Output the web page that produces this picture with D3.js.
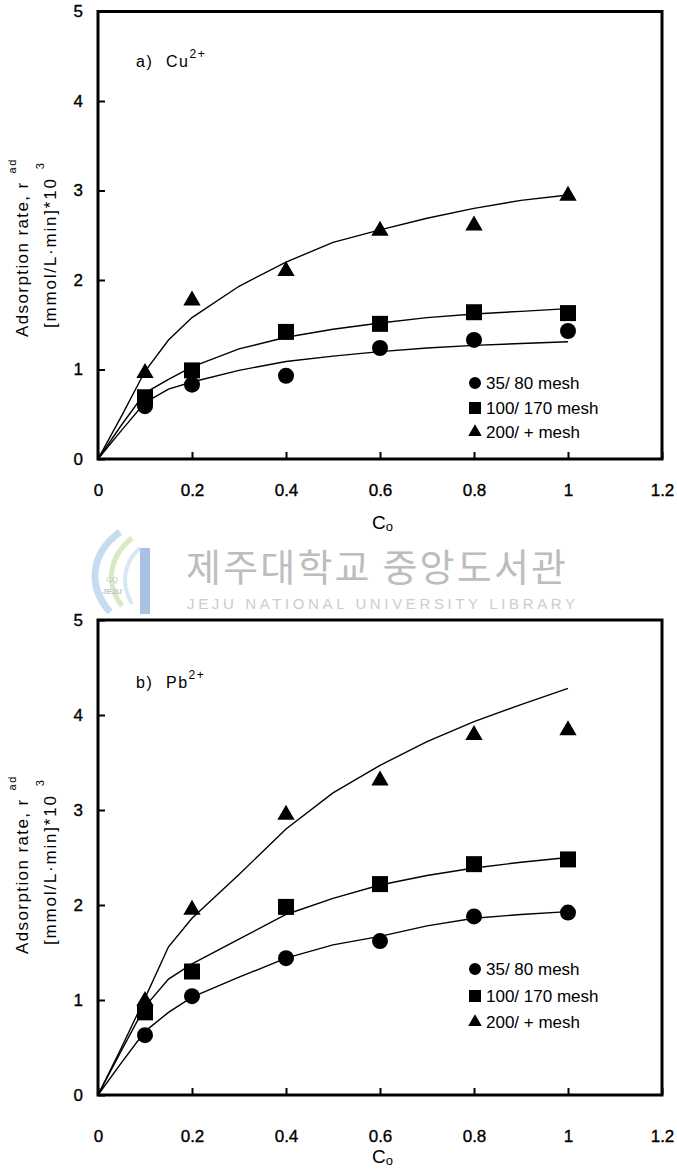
<!DOCTYPE html>
<html>
<head>
<meta charset="utf-8">
<script src="https://cdn.jsdelivr.net/npm/d3@7"></script>
<style>
  body { margin: 0; background: #fff; }
  svg { display: block; }
  text { font-family: "Liberation Sans", Arial, sans-serif; }
</style>
</head>
<body>
<svg id="canvas"></svg>
<script>
// measured points (C_o = 0.1 .. 1.0)
const xObs = [0.1, 0.2, 0.4, 0.6, 0.8, 1.0];
const cu35 = [0.59, 0.83, 0.93, 1.24, 1.33, 1.43];
const cu100 = [0.69, 0.99, 1.42, 1.51, 1.64, 1.63];
const cu200 = [0.96, 1.77, 2.10, 2.55, 2.61, 2.94];
const pb35 = [0.63, 1.04, 1.44, 1.62, 1.88, 1.92];
const pb100 = [0.87, 1.30, 1.98, 2.22, 2.43, 2.48];
const pb200 = [0.99, 1.95, 2.95, 3.31, 3.79, 3.84];

// fitted curves
const xFit = [0, 0.05, 0.1, 0.15, 0.2, 0.3, 0.4, 0.5, 0.6, 0.7, 0.8, 0.9, 1.0];
const cuFit35 = [0, 0.32, 0.63, 0.78, 0.86, 0.99, 1.09, 1.15, 1.20, 1.24, 1.27, 1.29, 1.31];
const cuFit100 = [0, 0.38, 0.74, 0.89, 1.03, 1.23, 1.36, 1.45, 1.52, 1.58, 1.62, 1.65, 1.68];
const cuFit200 = [0, 0.48, 0.98, 1.33, 1.58, 1.93, 2.20, 2.42, 2.56, 2.69, 2.80, 2.89, 2.95];
const pbFit35 = [0, 0.34, 0.67, 0.87, 1.03, 1.24, 1.44, 1.58, 1.67, 1.78, 1.86, 1.90, 1.93];
const pbFit100 = [0, 0.47, 0.93, 1.22, 1.38, 1.64, 1.90, 2.07, 2.21, 2.31, 2.39, 2.45, 2.50];
const pbFit200 = [0, 0.50, 1.02, 1.56, 1.86, 2.32, 2.80, 3.18, 3.47, 3.72, 3.93, 4.11, 4.28];

const xTicks = [0, 0.2, 0.4, 0.6, 0.8, 1, 1.2];
const yTicks = [0, 1, 2, 3, 4, 5];
const legendNames = ["35/ 80 mesh", "100/ 170 mesh", "200/ + mesh"];
const symbolTypes = [d3.symbolCircle, d3.symbolSquare, d3.symbolTriangle];

const width = 677, height = 1171;
const svg = d3.select("#canvas").attr("width", width).attr("height", height);
svg.append("rect").attr("width", width).attr("height", height).attr("fill", "#fff");

// watermark (library stamp between the two panels)
const wm = svg.append("g");
wm.append("path").attr("d", "M110,612 C86,585 92,552 120,532").attr("fill", "none")
  .attr("stroke", "#b9d3ee").attr("stroke-width", 7).attr("opacity", 0.8);
wm.append("path").attr("d", "M122,606 C104,582 110,556 132,538").attr("fill", "none")
  .attr("stroke", "#cfe3b6").attr("stroke-width", 5).attr("opacity", 0.8);
wm.append("path").attr("d", "M132,604 C120,584 124,562 140,548").attr("fill", "none")
  .attr("stroke", "#d7e8f5").attr("stroke-width", 4);
wm.append("rect").attr("x", 140).attr("y", 548).attr("width", 10).attr("height", 66).attr("fill", "#a9c2e4");
wm.append("text").attr("x", 112).attr("y", 582).attr("text-anchor", "middle")
  .attr("font-size", 8).attr("fill", "#c4c4c4").text("CQ");
wm.append("text").attr("x", 112).attr("y", 594).attr("text-anchor", "middle")
  .attr("font-size", 8).attr("font-weight", "bold").attr("fill", "#c4c4c4").text("JEJU");
wm.append("text").attr("x", 186).attr("y", 581)
  .style("font-family", "'Noto Sans CJK KR', sans-serif")
  .attr("font-size", 38).attr("fill", "#bdbdbd").attr("textLength", 380)
  .text("제주대학교 중앙도서관");
wm.append("text").attr("x", 187).attr("y", 609)
  .attr("font-size", 15).attr("fill", "#cccccc").attr("textLength", 388).attr("lengthAdjust", "spacing")
  .text("JEJU NATIONAL UNIVERSITY LIBRARY");

const x = d3.scaleLinear().domain([0, 1.2]).range([98, 662]);

function panel(opts) {
  const y = d3.scaleLinear().domain([0, 5]).range([opts.bottom, opts.top]);
  const g = svg.append("g");

  const xAxis = g.append("g")
    .attr("transform", `translate(0,${opts.bottom})`)
    .call(d3.axisBottom(x).tickValues(xTicks).tickFormat(d3.format("~g"))
      .tickSizeInner(-7).tickSizeOuter(0).tickPadding(opts.xPad));
  const yAxis = g.append("g")
    .attr("transform", `translate(${x(0)},0)`)
    .call(d3.axisLeft(y).tickValues(yTicks).tickFormat(d3.format("d"))
      .tickSizeInner(-7).tickSizeOuter(0).tickPadding(15));
  [xAxis, yAxis].forEach(a => {
    a.select(".domain").remove();
    a.selectAll("line").attr("stroke", "#000").attr("stroke-width", 2);
    a.selectAll("text").attr("font-size", 17).attr("fill", "#000")
      .attr("stroke", "#000").attr("stroke-width", 0.35)
      .style("font-family", "'Liberation Sans', Arial, sans-serif");
  });

  // frame
  g.append("rect").attr("x", x(0)).attr("y", y(5))
    .attr("width", x(1.2) - x(0)).attr("height", y(0) - y(5))
    .attr("fill", "none").attr("stroke", "#000").attr("stroke-width", 3);

  const line = d3.line().x(d => x(d[0])).y(d => y(d[1]));
  opts.fits.forEach(f => {
    g.append("path").datum(xFit.map((v, i) => [v, f[i]]))
      .attr("d", line).attr("fill", "none").attr("stroke", "#000").attr("stroke-width", 1.4);
  });

  const sizes = [201, 256, 130];
  opts.obs.forEach((s, k) => {
    g.append("g").selectAll("path")
      .data(xObs.map((v, i) => [v, s[i]]))
      .join("path")
      .attr("transform", d => `translate(${x(d[0])},${y(d[1])})`)
      .attr("d", d3.symbol().type(symbolTypes[k]).size(sizes[k]))
      .attr("fill", "#000");
  });

  // legend
  const lg = g.append("g");
  const lsizes = [113, 144, 80];
  legendNames.forEach((name, k) => {
    const ly = opts.legendY[k];
    lg.append("path").attr("transform", `translate(475,${ly})`)
      .attr("d", d3.symbol().type(symbolTypes[k]).size(lsizes[k])).attr("fill", "#000");
    lg.append("text").attr("x", 486).attr("y", ly + 6).attr("font-size", 17)
      .attr("fill", "#000").text(name);
  });

  // panel tag
  const tag = g.append("text").attr("x", 136).attr("y", opts.tagY).attr("font-size", 16)
    .attr("letter-spacing", 1.5).attr("fill", "#000");
  tag.append("tspan").text(opts.tag[0]);
  tag.append("tspan").attr("x", 166).text(opts.tag[1]);
  tag.append("tspan").attr("dy", -9).attr("font-size", 12).text("2+");

  // x title
  const xt = g.append("text").attr("x", 372).attr("y", opts.bottom + opts.xTitleOff)
    .attr("font-size", 19).attr("fill", "#000");
  xt.append("tspan").text("C");
  xt.append("tspan").attr("dy", 2).attr("font-size", 13).text("o");

  // y title (two rotated lines)
  const t1 = g.append("text").attr("transform", `translate(28,${opts.yTitleBase}) rotate(-90)`)
    .attr("font-size", 17).attr("letter-spacing", 1.4).attr("fill", "#000");
  t1.append("tspan").text("Adsorption rate, r");
  t1.append("tspan").attr("dx", 8).attr("dy", -12).attr("font-size", 11).text("ad");
  const t2 = g.append("text").attr("transform", `translate(56,${opts.yTitleBase - 9}) rotate(-90)`)
    .attr("font-size", 17).attr("letter-spacing", 1.8).attr("fill", "#000");
  t2.append("tspan").text("[mmol/L·min]*10");
  t2.append("tspan").attr("dx", 8).attr("dy", -12).attr("font-size", 11).text("3");
}

panel({
  top: 11.5, bottom: 459, xPad: 25, xTitleOff: 70,
  fits: [cuFit35, cuFit100, cuFit200], obs: [cu35, cu100, cu200],
  legendY: [383, 408, 432], tag: ["a)", "Cu"], tagY: 67, yTitleBase: 337
});
panel({
  top: 620, bottom: 1095, xPad: 35, xTitleOff: 68,
  fits: [pbFit35, pbFit100, pbFit200], obs: [pb35, pb100, pb200],
  legendY: [969, 996, 1022], tag: ["b)", "Pb"], tagY: 688, yTitleBase: 954
});
</script>
</body>
</html>
